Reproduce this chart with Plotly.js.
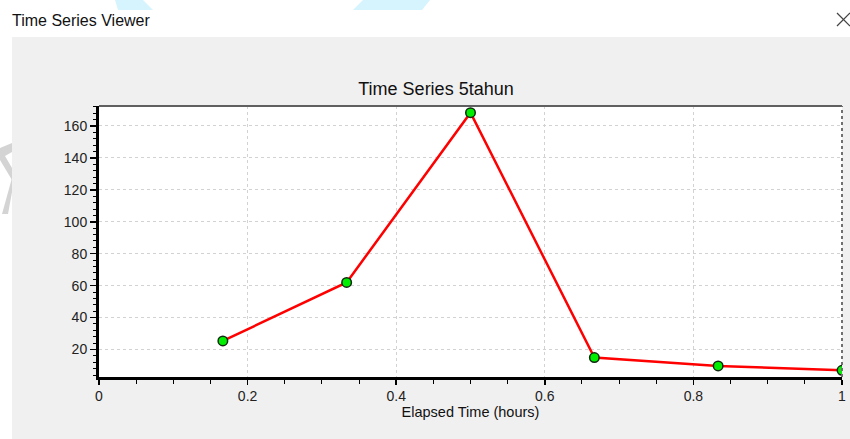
<!DOCTYPE html>
<html>
<head>
<meta charset="utf-8">
<script src="https://cdn.plot.ly/plotly-3.0.1.min.js"></script>
<style>html,body{margin:0;padding:0;background:#fff;}#chart{width:850px;height:439px;}</style>
</head>
<body>
<div id="chart"></div>
<script>
// Data
const elapsedHours = [0.1667, 0.3333, 0.5, 0.6667, 0.8333, 1.0];
const flowValues = [25.4, 62.0, 168.3, 15.0, 9.7, 7.0];
const xTickVals = [0, 0.2, 0.4, 0.6, 0.8, 1];
const xTickText = ['0', '0.2', '0.4', '0.6', '0.8', '1'];
const yTickVals = [20, 40, 60, 80, 100, 120, 140, 160];
const yTickText = ['20', '40', '60', '80', '100', '120', '140', '160'];
const chartTitle = 'Time Series 5tahun';
const windowTitle = 'Time Series Viewer';
const xTitle = 'Elapsed Time (hours)';

// Layout geometry (pixels)
const W = 850, H = 439;
const L = 99, R = 842, T = 106, B = 377;
const px = x => (x - L) / (R - L);
const py = y => (B - y) / (B - T);

const font = 'Liberation Sans, Arial, sans-serif';

const trace = {
  x: elapsedHours,
  y: flowValues,
  type: 'scatter',
  mode: 'lines+markers',
  line: {color: '#ff0000', width: 2.5},
  marker: {color: '#00ee00', size: 9.5, line: {color: '#0f2a0f', width: 1.5}},
  cliponaxis: true,
  hoverinfo: 'x+y'
};

const shapes = [
  // white window strip (top) and left margin
  {type: 'rect', xref: 'paper', yref: 'paper', x0: px(0), x1: px(W), y0: py(37), y1: py(0), fillcolor: '#ffffff', line: {width: 0}, layer: 'below'},
  {type: 'rect', xref: 'paper', yref: 'paper', x0: px(0), x1: px(12), y0: py(H), y1: py(37), fillcolor: '#ffffff', line: {width: 0}, layer: 'below'},
  // faint watermark fragments
  {type: 'path', xref: 'paper', yref: 'paper', path: `M ${px(115)} ${py(0)} L ${px(143)} ${py(0)} L ${px(153)} ${py(10)} L ${px(118)} ${py(10)} Z`, fillcolor: '#d6f4fd', line: {width: 0}},
  {type: 'path', xref: 'paper', yref: 'paper', path: `M ${px(363)} ${py(0)} L ${px(430)} ${py(0)} L ${px(422)} ${py(10)} L ${px(353)} ${py(10)} Z`, fillcolor: '#d6f4fd', line: {width: 0}},
  {type: 'path', xref: 'paper', yref: 'paper', path: `M ${px(0)} ${py(148)} L ${px(12)} ${py(143)} L ${px(12)} ${py(152)} L ${px(5)} ${py(156)} L ${px(12)} ${py(168)} L ${px(12)} ${py(180)} L ${px(0)} ${py(160)} Z`, fillcolor: '#d4d4d4', line: {width: 0}},
  {type: 'path', xref: 'paper', yref: 'paper', path: `M ${px(12)} ${py(178)} L ${px(12)} ${py(192)} L ${px(8)} ${py(214)} L ${px(2)} ${py(214)} Z`, fillcolor: '#d4d4d4', line: {width: 0}},
  // window close cross
  {type: 'line', xref: 'paper', yref: 'paper', x0: px(837), y0: py(13), x1: px(850), y1: py(26), line: {color: '#444', width: 1.2}},
  {type: 'line', xref: 'paper', yref: 'paper', x0: px(850), y0: py(13), x1: px(837), y1: py(26), line: {color: '#444', width: 1.2}},
  // top and right plot borders
  {type: 'line', xref: 'paper', yref: 'paper', x0: 0, x1: 1, y0: 1, y1: 1, line: {color: '#606060', width: 2}},
  {type: 'line', xref: 'paper', yref: 'paper', x0: 1, x1: 1, y0: 0, y1: 1, line: {color: '#707070', width: 2, dash: 'dot'}}
];

const layout = {
  width: W, height: H,
  margin: {l: L, r: W - R, t: T, b: H - B, pad: 0},
  paper_bgcolor: '#f0f0f0',
  plot_bgcolor: '#ffffff',
  showlegend: false,
  font: {family: font, size: 14, color: '#222222'},
  title: {
    text: chartTitle,
    font: {family: font, size: 18, color: '#111111'},
    xref: 'paper', x: px(436), xanchor: 'center',
    yref: 'container', y: 1 - 89 / H, yanchor: 'middle'
  },
  xaxis: {
    range: [0, 1],
    tickmode: 'array', tickvals: xTickVals, ticktext: xTickText,
    ticks: 'outside', ticklen: 5, tickwidth: 1.5, tickcolor: '#000',
    minor: {dtick: 0.05, ticks: 'outside', ticklen: 4, tickwidth: 1, tickcolor: '#000', showgrid: false},
    showline: true, linecolor: '#000', linewidth: 2.5, mirror: false,
    showgrid: true, gridcolor: '#d2d2d2', griddash: 'dot', gridwidth: 1,
    zeroline: false,
    tickfont: {family: font, size: 14, color: '#222'},
    title: {text: xTitle, font: {family: font, size: 14.5, color: '#111'}, standoff: 4}
  },
  yaxis: {
    range: [2.8, 172.5],
    tickmode: 'array', tickvals: yTickVals, ticktext: yTickText,
    ticks: 'outside', ticklen: 6, tickwidth: 1.5, tickcolor: '#000',
    minor: {dtick: 4, tick0: 0, ticks: 'outside', ticklen: 3, tickwidth: 1, tickcolor: '#000', showgrid: false},
    showline: true, linecolor: '#000', linewidth: 3, mirror: false,
    showgrid: true, gridcolor: '#d2d2d2', griddash: 'dot', gridwidth: 1,
    zeroline: false,
    tickfont: {family: font, size: 14, color: '#222'}
  },
  shapes: shapes,
  annotations: [
    {text: windowTitle, xref: 'paper', yref: 'paper', x: px(10), y: py(20), xanchor: 'left', yanchor: 'middle', showarrow: false,
     font: {family: font, size: 16, color: '#111'}}
  ]
};

Plotly.newPlot('chart', [trace], layout, {displayModeBar: false, staticPlot: true});
</script>
</body>
</html>
